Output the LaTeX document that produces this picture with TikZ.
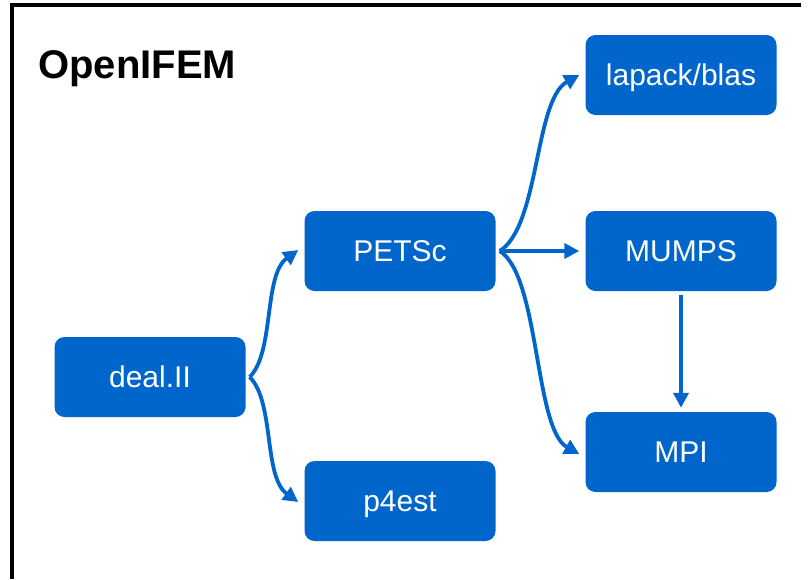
\documentclass[tikz,border=0pt]{standalone}
\usepackage{fontspec}
\setmainfont{Liberation Sans}
\usetikzlibrary{arrows.meta}
\definecolor{boxblue}{RGB}{0,102,204}
\tikzset{
  blk/.style={fill=boxblue, draw=none, rounded corners=10pt, minimum width=191pt, minimum height=80pt,
    text=white, font=\fontsize{30}{36}\selectfont, text height=21.5pt, text depth=0pt, inner sep=0pt},
  con/.style={draw=boxblue, line width=3.8pt, -{Triangle[length=15pt,width=15pt]}},
  frame/.style={line width=3.5pt, draw=black}
}
\begin{document}
\begin{tikzpicture}[x=1pt,y=-1pt]
\useasboundingbox (0,0) rectangle (808,579);
\fill[white] (0,0) rectangle (808,579);
\coordinate (ftl) at (12,5);
\coordinate (ftr) at (801,5);
\coordinate (fbl) at (12,579);
\draw[frame] (ftr) -- (ftl) -- (fbl);
\node[anchor=base west, font=\fontsize{40}{48}\selectfont\bfseries, inner sep=0pt] (title) at (38,78) {OpenIFEM};
\node[blk] (deal) at (150,377) {deal.II};
\node[blk] (petsc) at (400,251) {PETSc};
\node[blk] (p4est) at (400,501) {p4est};
\node[blk] (lapack) at (681,75) {lapack/blas};
\node[blk] (mumps) at (681,251) {MUMPS};
\node[blk] (mpi) at (681,452) {MPI};
\draw[con] ([xshift=4pt]deal.east) .. controls +(25,-25) and +(-35,25) .. ([xshift=-6pt,yshift=1pt]petsc.west);
\draw[con] ([xshift=4pt]deal.east) .. controls +(25,25) and +(-35,-25) .. ([xshift=-6pt,yshift=-1pt]p4est.west);
\draw[con] ([xshift=4pt]petsc.east) .. controls +(40,-25) and +(-45,25) .. ([xshift=-6pt]lapack.west);
\draw[con] ([xshift=4pt]petsc.east) -- ([xshift=-6pt]mumps.west);
\draw[con] ([xshift=4pt]petsc.east) .. controls +(40,25) and +(-45,-25) .. ([xshift=-6pt,yshift=-2pt]mpi.west);
\draw[con] ([yshift=-4pt]mumps.south) -- ([yshift=4pt]mpi.north);
\end{tikzpicture}
\end{document}
